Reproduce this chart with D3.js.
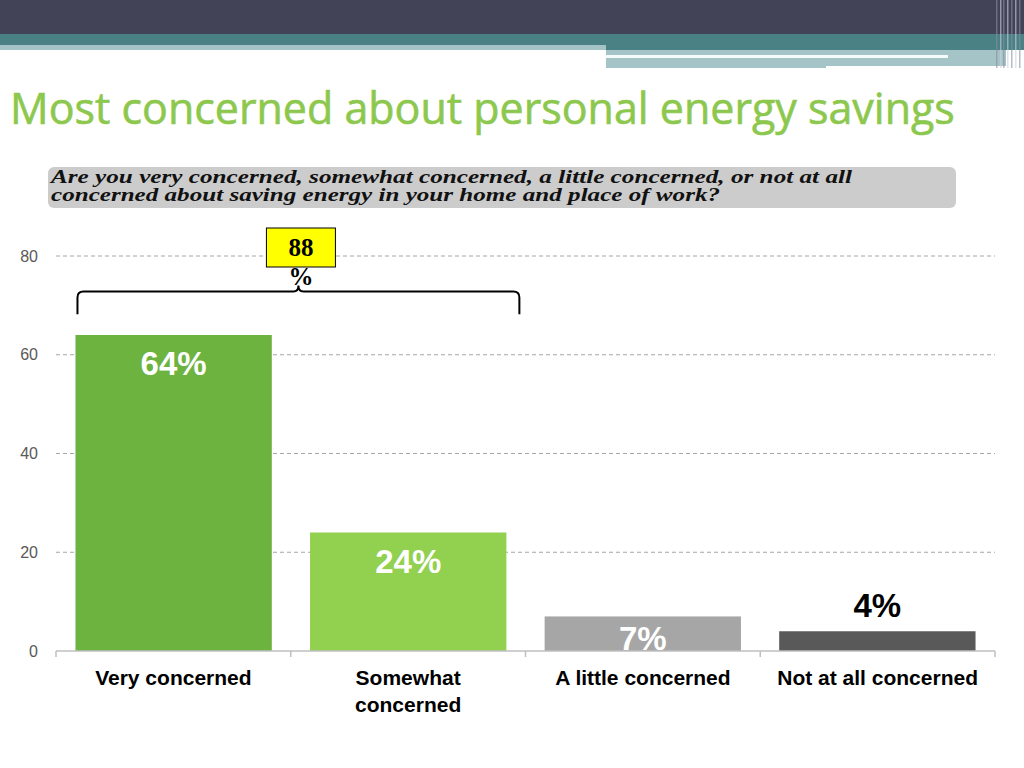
<!DOCTYPE html>
<html>
<head>
<meta charset="utf-8">
<script src="https://cdn.jsdelivr.net/npm/d3@7"></script>
<style>
  body { margin: 0; background: #fff; }
  svg { display: block; }
</style>
</head>
<body>
<svg id="chart" width="1024" height="768"></svg>
<script>
const categories = ['Very concerned', 'Somewhat concerned', 'A little concerned', 'Not at all concerned'];
const values = [64, 24, 7, 4];
const valueLabels = ['64%', '24%', '7%', '4%'];
const yTicks = [0, 20, 40, 60, 80];
const combinedLabel = ['88', '%'];

const barColors = ['#6db33f', '#92d050', '#a6a6a6', '#595959'];
const labelColors = ['#fff', '#fff', '#fff', '#000'];

const svg = d3.select('#chart');

// header bands
const header = svg.append('g').attr('class', 'header');
header.append('rect').attr('x', 0).attr('y', 0).attr('width', 1024).attr('height', 34).attr('fill', '#434358');
header.append('rect').attr('x', 0).attr('y', 34).attr('width', 1024).attr('height', 11).attr('fill', '#4a8185');
header.append('rect').attr('x', 0).attr('y', 45).attr('width', 606).attr('height', 5).attr('fill', '#a5c4c7');
header.append('rect').attr('x', 606).attr('y', 45).attr('width', 418).attr('height', 5).attr('fill', '#4a8185');
header.append('rect').attr('x', 606).attr('y', 50).attr('width', 400).attr('height', 18).attr('fill', '#a5c4c7');
header.append('rect').attr('x', 606).attr('y', 55).attr('width', 342).attr('height', 3).attr('fill', '#f4fbfb');
header.append('rect').attr('x', 826).attr('y', 66).attr('width', 180).attr('height', 3).attr('fill', '#fff');
[996, 1000, 1003, 1007, 1011, 1015, 1019].forEach((x, i) => {
  header.append('rect').attr('x', x).attr('y', 0).attr('width', 1.5).attr('height', 68)
    .attr('fill', i % 2 ? '#c9d2dc' : '#8a8d9d').attr('opacity', 0.6);
});

// fit a text to a given width
const fitText = (sel, target) => {
  const w = sel.node().getComputedTextLength();
  const fs = parseFloat(sel.attr('font-size'));
  sel.attr('font-size', fs * target / w);
};

const title = svg.append('text')
  .attr('x', 10).attr('y', 124)
  .attr('font-family', '"Open Sans", sans-serif')
  .attr('font-size', 40)
  .attr('fill', '#8dc84e')
  .attr('stroke', '#8dc84e').attr('stroke-width', 0.6)
  .text('Most concerned about personal energy savings');
fitText(title, 945);

// question box
svg.append('rect')
  .attr('x', 48).attr('y', 167).attr('width', 908).attr('height', 41)
  .attr('rx', 6).attr('fill', '#cccccc');
const qLines = [
  'Are you very concerned, somewhat concerned, a little concerned, or not at all',
  'concerned about saving energy in your home and place of work?'
];
const qWidths = [801, 669];
qLines.forEach((t, i) => {
  svg.append('text')
    .attr('x', 51).attr('y', 183 + i * 18)
    .attr('font-family', '"Liberation Serif", serif')
    .attr('font-weight', 'bold').attr('font-style', 'italic')
    .attr('font-size', 18.5).attr('fill', '#111')
    .attr('textLength', qWidths[i]).attr('lengthAdjust', 'spacingAndGlyphs')
    .text(t);
});

// chart area
const margin = { left: 56, right: 29 };
const innerWidth = 1024 - margin.left - margin.right;
const zeroY = 651;

const x = d3.scaleBand().domain(categories).range([margin.left, margin.left + innerWidth]).paddingInner(0.163).paddingOuter(0.083);
const band = d3.scaleBand().domain(categories).range([margin.left, margin.left + innerWidth]);
const y = d3.scaleLinear().domain([0, 80]).range([zeroY, 256]);

// grid
const grid = svg.append('g');
grid.selectAll('line').data(yTicks.filter(d => d > 0)).join('line')
  .attr('x1', margin.left).attr('x2', margin.left + innerWidth)
  .attr('y1', d => y(d)).attr('y2', d => y(d))
  .attr('stroke', '#a6a6a6').attr('stroke-dasharray', '4,3').attr('stroke-width', 1);

const yAxis = d3.axisLeft(y).tickValues(yTicks).tickSize(0).tickPadding(18);
svg.append('g')
  .attr('transform', `translate(${margin.left},0)`)
  .call(yAxis)
  .call(g => g.select('.domain').remove())
  .call(g => g.selectAll('text')
    .attr('font-family', '"Liberation Sans", Arial, sans-serif')
    .attr('font-size', 16).attr('fill', '#595959'));

// bars
svg.selectAll('.bar').data(values).join('rect')
  .attr('class', 'bar')
  .attr('x', (d, i) => x(categories[i]))
  .attr('y', d => y(d))
  .attr('width', x.bandwidth())
  .attr('height', d => zeroY - y(d))
  .attr('fill', (d, i) => barColors[i]);

// x axis
const xAxis = svg.append('g');
xAxis.append('line')
  .attr('x1', margin.left).attr('x2', margin.left + innerWidth)
  .attr('y1', zeroY).attr('y2', zeroY)
  .attr('stroke', '#bfbfbf').attr('stroke-width', 1.5);
const bounds = categories.map(c => band(c)).concat([margin.left + innerWidth]);
xAxis.selectAll('.tick').data(bounds).join('line')
  .attr('x1', d => d).attr('x2', d => d)
  .attr('y1', zeroY).attr('y2', zeroY + 6)
  .attr('stroke', '#bfbfbf').attr('stroke-width', 1.5);

// value labels
const labelY = (d, i) => i === 3 ? y(d) - 14 : (i === 2 ? zeroY - 1 : y(d) + 40);
svg.selectAll('.vlabel').data(values).join('text')
  .attr('class', 'vlabel')
  .attr('x', (d, i) => x(categories[i]) + x.bandwidth() / 2)
  .attr('y', labelY)
  .attr('text-anchor', 'middle')
  .attr('font-family', '"Liberation Sans", Arial, sans-serif')
  .attr('font-weight', 'bold').attr('font-size', 33)
  .attr('fill', (d, i) => labelColors[i])
  .text((d, i) => valueLabels[i]);

// category labels
const catLines = { 'Somewhat concerned': ['Somewhat', 'concerned'] };
categories.forEach(c => {
  const lines = catLines[c] || [c];
  const t = svg.append('text')
    .attr('x', band(c) + band.bandwidth() / 2)
    .attr('y', 685)
    .attr('text-anchor', 'middle')
    .attr('font-family', '"Liberation Sans", Arial, sans-serif')
    .attr('font-weight', 'bold').attr('font-size', 21)
    .attr('fill', '#000');
  lines.forEach((l, i) => {
    t.append('tspan').attr('x', band(c) + band.bandwidth() / 2).attr('dy', i ? 27 : 0).text(l);
  });
});

// bracket over the first two bars
const bL = x(categories[0]) + 2;
const bR = x(categories[1]) + x.bandwidth() + 13;
const bM = (bL + bR) / 2;
const bTop = y(72.8), bEnd = y(68.2), r = 6;
svg.append('path')
  .attr('d', `M${bL},${bEnd} L${bL},${bTop + r} Q${bL},${bTop} ${bL + r},${bTop}
    L${bM - 5},${bTop} Q${bM},${bTop} ${bM},${bTop - 6} Q${bM},${bTop} ${bM + 5},${bTop}
    L${bR - r},${bTop} Q${bR},${bTop} ${bR},${bTop + r} L${bR},${bEnd}`)
  .attr('fill', 'none').attr('stroke', '#000').attr('stroke-width', 2);

// 88% callout
svg.append('rect')
  .attr('x', bM - 32).attr('y', 228).attr('width', 69).attr('height', 39)
  .attr('fill', '#ffff00').attr('stroke', '#000').attr('stroke-width', 1);
combinedLabel.forEach((t, i) => {
  svg.append('text')
    .attr('x', bM + 2.5).attr('y', 256 + i * 29)
    .attr('text-anchor', 'middle')
    .attr('font-family', '"Liberation Serif", "Times New Roman", serif')
    .attr('font-weight', 'bold').attr('font-size', 25)
    .attr('fill', '#000')
    .text(t);
});
</script>
</body>
</html>
